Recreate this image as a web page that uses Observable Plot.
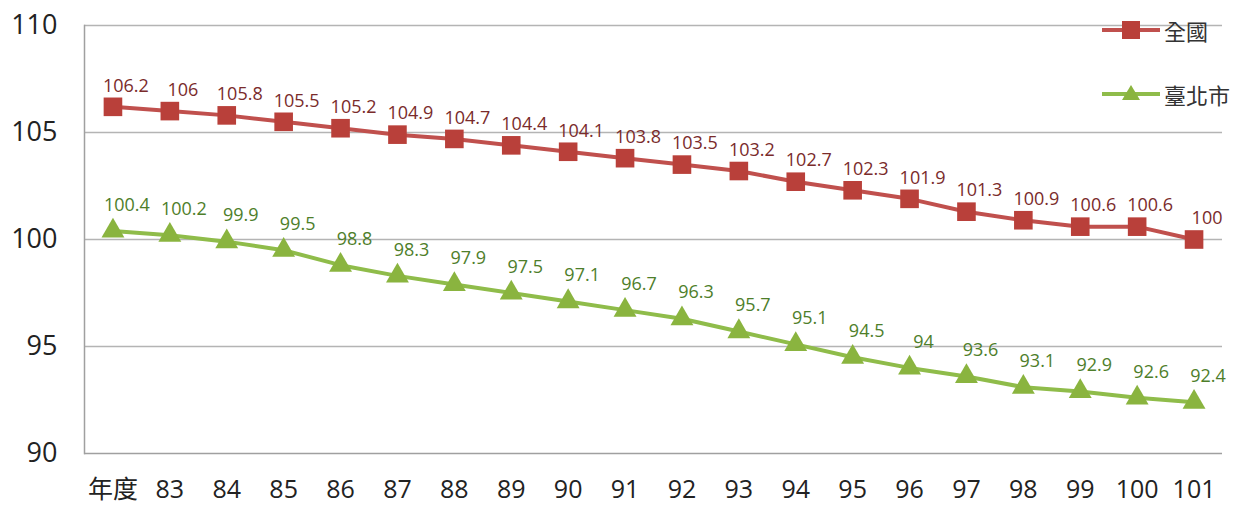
<!DOCTYPE html>
<html>
<head>
<meta charset="utf-8">
<script src="https://cdn.jsdelivr.net/npm/d3@7"></script>
<script src="https://cdn.jsdelivr.net/npm/@observablehq/plot@0.6"></script>
<style>
  html, body { margin: 0; padding: 0; background: #fff; }
  #wrap { position: relative; width: 1253px; height: 510px; font-family: "Open Sans", "Noto Sans CJK TC", sans-serif; }
  #legend { position: absolute; left: 1102px; top: 14px; font-family: "Noto Sans CJK TC", sans-serif; font-size: 22px; color: #333; }
  #legend .item { display: flex; align-items: center; height: 32px; }
  #legend .item + .item { margin-top: 32px; }
  #legend svg { margin-right: 4px; }
</style>
</head>
<body>
<div id="wrap">
  <div id="chart"></div>
  <div id="legend"></div>
</div>
<script>
const years = ["年度","83","84","85","86","87","88","89","90","91","92","93","94","95","96","97","98","99","100","101"];
const national = [106.2,106,105.8,105.5,105.2,104.9,104.7,104.4,104.1,103.8,103.5,103.2,102.7,102.3,101.9,101.3,100.9,100.6,100.6,100];
const taipei = [100.4,100.2,99.9,99.5,98.8,98.3,97.9,97.5,97.1,96.7,96.3,95.7,95.1,94.5,94,93.6,93.1,92.9,92.6,92.4];
const yTicks = [90,95,100,105,110];
const seriesNames = ["全國","臺北市"];

const natData = years.map((y, i) => ({year: y, value: national[i]}));
const tpeData = years.map((y, i) => ({year: y, value: taipei[i]}));

const red = "#c0504d", redMark = "#b9403a", redText = "#7a2b2b";
const green = "#8fbc4a", greenMark = "#8ab43f", greenText = "#4e7e2a";

const chart = Plot.plot({
  width: 1253,
  height: 510,
  marginLeft: 84,
  marginRight: 31,
  marginTop: 25,
  marginBottom: 57,
  style: {fontFamily: '"Open Sans", "Noto Sans CJK TC", sans-serif', background: "#fff"},
  x: {type: "point", domain: years, padding: 0.5, round: false, label: null},
  y: {domain: [90, 110], label: null},
  marks: [
    Plot.ruleY(yTicks.slice(1), {stroke: "#b4b4b4", strokeWidth: 1.5}),
    Plot.ruleY([90], {stroke: "#a0a0a0", strokeWidth: 1.5}),
    Plot.frame({anchor: "left", stroke: "#a0a0a0", strokeWidth: 1.5}),
    Plot.axisY({ticks: yTicks, tickSize: 0, tickPadding: 27, fontSize: 27, color: "#222", label: null, tickFormat: d => String(d)}),
    Plot.axisX({tickSize: 0, tickPadding: 27, fontSize: 25, color: "#222", label: null}),
    Plot.line(natData, {x: "year", y: "value", stroke: red, strokeWidth: 4}),
    Plot.dot(natData, {x: "year", y: "value", symbol: "square", r: 10.5, fill: redMark, stroke: null}),
    Plot.line(tpeData, {x: "year", y: "value", stroke: green, strokeWidth: 4}),
    Plot.dot(tpeData, {x: "year", y: "value", symbol: "triangle", r: 8.5, fill: greenMark, stroke: null}),
    Plot.text(natData, {x: "year", y: "value", text: d => String(d.value), dx: 13, dy: -21, fontSize: 18, fill: redText}),
    Plot.text(tpeData, {x: "year", y: "value", text: d => String(d.value), dx: 14, dy: -26, fontSize: 18, fill: greenText})
  ]
});
document.getElementById("chart").appendChild(chart);

// legend
const legend = d3.select("#legend");
const specs = [
  {name: seriesNames[0], line: red, fill: redMark, sym: "square"},
  {name: seriesNames[1], line: green, fill: greenMark, sym: "triangle"}
];
for (const s of specs) {
  const item = legend.append("div").attr("class", "item");
  const svg = item.append("svg").attr("width", 58).attr("height", 24);
  svg.append("line").attr("x1", 0).attr("x2", 58).attr("y1", 12).attr("y2", 12).attr("stroke", s.line).attr("stroke-width", 4);
  if (s.sym === "square") {
    svg.append("rect").attr("x", 20).attr("y", 3).attr("width", 18).attr("height", 18).attr("fill", s.fill);
  } else {
    svg.append("path").attr("d", "M29,3 L38,18 L20,18 Z").attr("fill", s.fill);
  }
  item.append("span").text(s.name);
}
</script>
</body>
</html>
